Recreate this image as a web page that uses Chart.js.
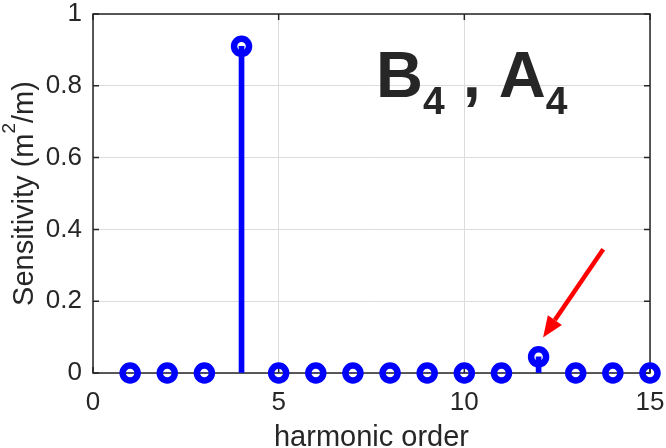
<!DOCTYPE html>
<html>
<head>
<meta charset="utf-8">
<script src="https://cdn.jsdelivr.net/npm/chart.js@4.4.0/dist/chart.umd.min.js"></script>
<style>
  html, body { margin: 0; padding: 0; background: #fff; }
  #wrap { width: 666px; height: 448px; }
</style>
</head>
<body>
<div id="wrap"><canvas id="stemChart"></canvas></div>
<script>
// harmonic sensitivities
const harmonics = [1, 2, 3, 4, 5, 6, 7, 8, 9, 10, 11, 12, 13, 14, 15];
const sensitivity = [0, 0, 0, 0.91, 0, 0, 0, 0, 0, 0, 0, 0.045, 0, 0, 0];
const xTicks = [0, 5, 10, 15];
const yTicks = [0, 0.2, 0.4, 0.6, 0.8, 1];

const xTitle = 'harmonic order';
const yTitle = ['Sensitivity (m', '2', '/m)'];
const noteMain = ['B', '4', ' , ', 'A', '4'];

const ink = '#262626';
const blue = '#0000ff';
const fontFam = '"Liberation Sans", Arial, sans-serif';

const points = harmonics.map((h, i) => ({ x: h, y: sensitivity[i] }));

// axes box, inward ticks, titles, label and arrow
const decor = {
  id: 'decor',
  beforeDatasetsDraw(chart) {
    const { ctx, chartArea: a, scales: { x, y } } = chart;
    ctx.save();
    ctx.strokeStyle = ink;
    ctx.lineWidth = 1.5;
    ctx.strokeRect(a.left, a.top, a.right - a.left, a.bottom - a.top);
    ctx.beginPath();
    xTicks.forEach(v => {
      const px = x.getPixelForValue(v);
      ctx.moveTo(px, a.bottom); ctx.lineTo(px, a.bottom - 6);
      ctx.moveTo(px, a.top); ctx.lineTo(px, a.top + 6);
    });
    yTicks.forEach(v => {
      const py = y.getPixelForValue(v);
      ctx.moveTo(a.left, py); ctx.lineTo(a.left + 6, py);
      ctx.moveTo(a.right, py); ctx.lineTo(a.right - 6, py);
    });
    ctx.stroke();
    ctx.restore();
  },
  afterDraw(chart) {
    const { ctx, chartArea: a, scales: { x, y } } = chart;
    ctx.save();
    ctx.fillStyle = ink;
    ctx.textBaseline = 'alphabetic';

    // x title
    ctx.font = '29px ' + fontFam;
    ctx.textAlign = 'center';
    ctx.fillText(xTitle, (a.left + a.right) / 2, 446);

    // y title with superscript
    ctx.save();
    ctx.translate(33, (a.top + a.bottom) / 2);
    ctx.rotate(-Math.PI / 2);
    ctx.textAlign = 'left';
    const big = '29px ' + fontFam, sup = '19px ' + fontFam;
    ctx.font = big; const w1 = ctx.measureText(yTitle[0]).width;
    ctx.font = sup; const w2 = ctx.measureText(yTitle[1]).width;
    ctx.font = big; const w3 = ctx.measureText(yTitle[2]).width;
    let cx = -(w1 + w2 + w3) / 2;
    ctx.font = big; ctx.fillText(yTitle[0], cx, 0); cx += w1;
    ctx.font = sup; ctx.fillText(yTitle[1], cx, -18); cx += w2;
    ctx.font = big; ctx.fillText(yTitle[2], cx, 0);
    ctx.restore();

    // big label
    ctx.textAlign = 'left';
    let lx = x.getPixelForValue(7.62);
    const ly = y.getPixelForValue(0.769);
    noteMain.forEach((s, i) => {
      const isSub = (i === 1 || i === 4);
      ctx.font = 'bold ' + (isSub ? 39 : 65) + 'px ' + fontFam;
      ctx.fillText(s, lx, ly + (isSub ? 17 : 0));
      lx += ctx.measureText(s).width;
    });

    // red arrow
    const x0 = x.getPixelForValue(13.74), y0 = y.getPixelForValue(0.345);
    const x1 = x.getPixelForValue(12.12), y1 = y.getPixelForValue(0.099);
    const ang = Math.atan2(y1 - y0, x1 - x0);
    const head = 21, half = 8.5;
    const bx = x1 - head * Math.cos(ang), by = y1 - head * Math.sin(ang);
    ctx.strokeStyle = '#ff0000';
    ctx.fillStyle = '#ff0000';
    ctx.lineWidth = 4.5;
    ctx.beginPath(); ctx.moveTo(x0, y0); ctx.lineTo(bx, by); ctx.stroke();
    ctx.beginPath();
    ctx.moveTo(x1, y1);
    ctx.lineTo(bx + half * Math.sin(ang), by - half * Math.cos(ang));
    ctx.lineTo(bx - half * Math.sin(ang), by + half * Math.cos(ang));
    ctx.closePath(); ctx.fill();
    ctx.restore();
  }
};

new Chart(document.getElementById('stemChart'), {
  type: 'bar',
  data: {
    datasets: [{
      type: 'line',
      data: points,
      showLine: false,
      pointStyle: 'circle',
      pointRadius: 7.5,
      pointHoverRadius: 7.5,
      pointBorderWidth: 6.5,
      pointBackgroundColor: 'rgba(0,0,0,0)',
      pointBorderColor: blue,
      clip: false,
      order: 1
    }, {
      type: 'bar',
      data: points,
      backgroundColor: blue,
      barThickness: 5,
      borderWidth: 0,
      order: 2
    }]
  },
  options: {
    responsive: true,
    maintainAspectRatio: false,
    animation: false,
    events: [],
    layout: { padding: { top: 9, right: 16, left: 0, bottom: 0 } },
    plugins: { legend: { display: false }, tooltip: { enabled: false } },
    scales: {
      x: {
        type: 'linear',
        min: 0, max: 15,
        offset: false,
        afterBuildTicks: s => { s.ticks = xTicks.map(v => ({ value: v })); },
        afterFit: s => { s.height = 75; s.paddingLeft = 0; s.paddingRight = 0; },
        ticks: { color: ink, font: { family: fontFam, size: 26 }, padding: 14, maxRotation: 0, callback: v => String(v) },
        grid: { color: '#dcdcdc', lineWidth: 1, drawTicks: false, offset: false },
        border: { display: false }
      },
      y: {
        min: 0, max: 1,
        afterBuildTicks: s => { s.ticks = yTicks.map(v => ({ value: v })); },
        afterFit: s => { s.width = 93; s.paddingTop = 0; s.paddingBottom = 0; },
        ticks: { color: ink, font: { family: fontFam, size: 26 }, padding: 11, callback: v => String(v) },
        grid: { color: '#dcdcdc', lineWidth: 1, drawTicks: false },
        border: { display: false }
      }
    }
  },
  plugins: [decor]
});
</script>
</body>
</html>
